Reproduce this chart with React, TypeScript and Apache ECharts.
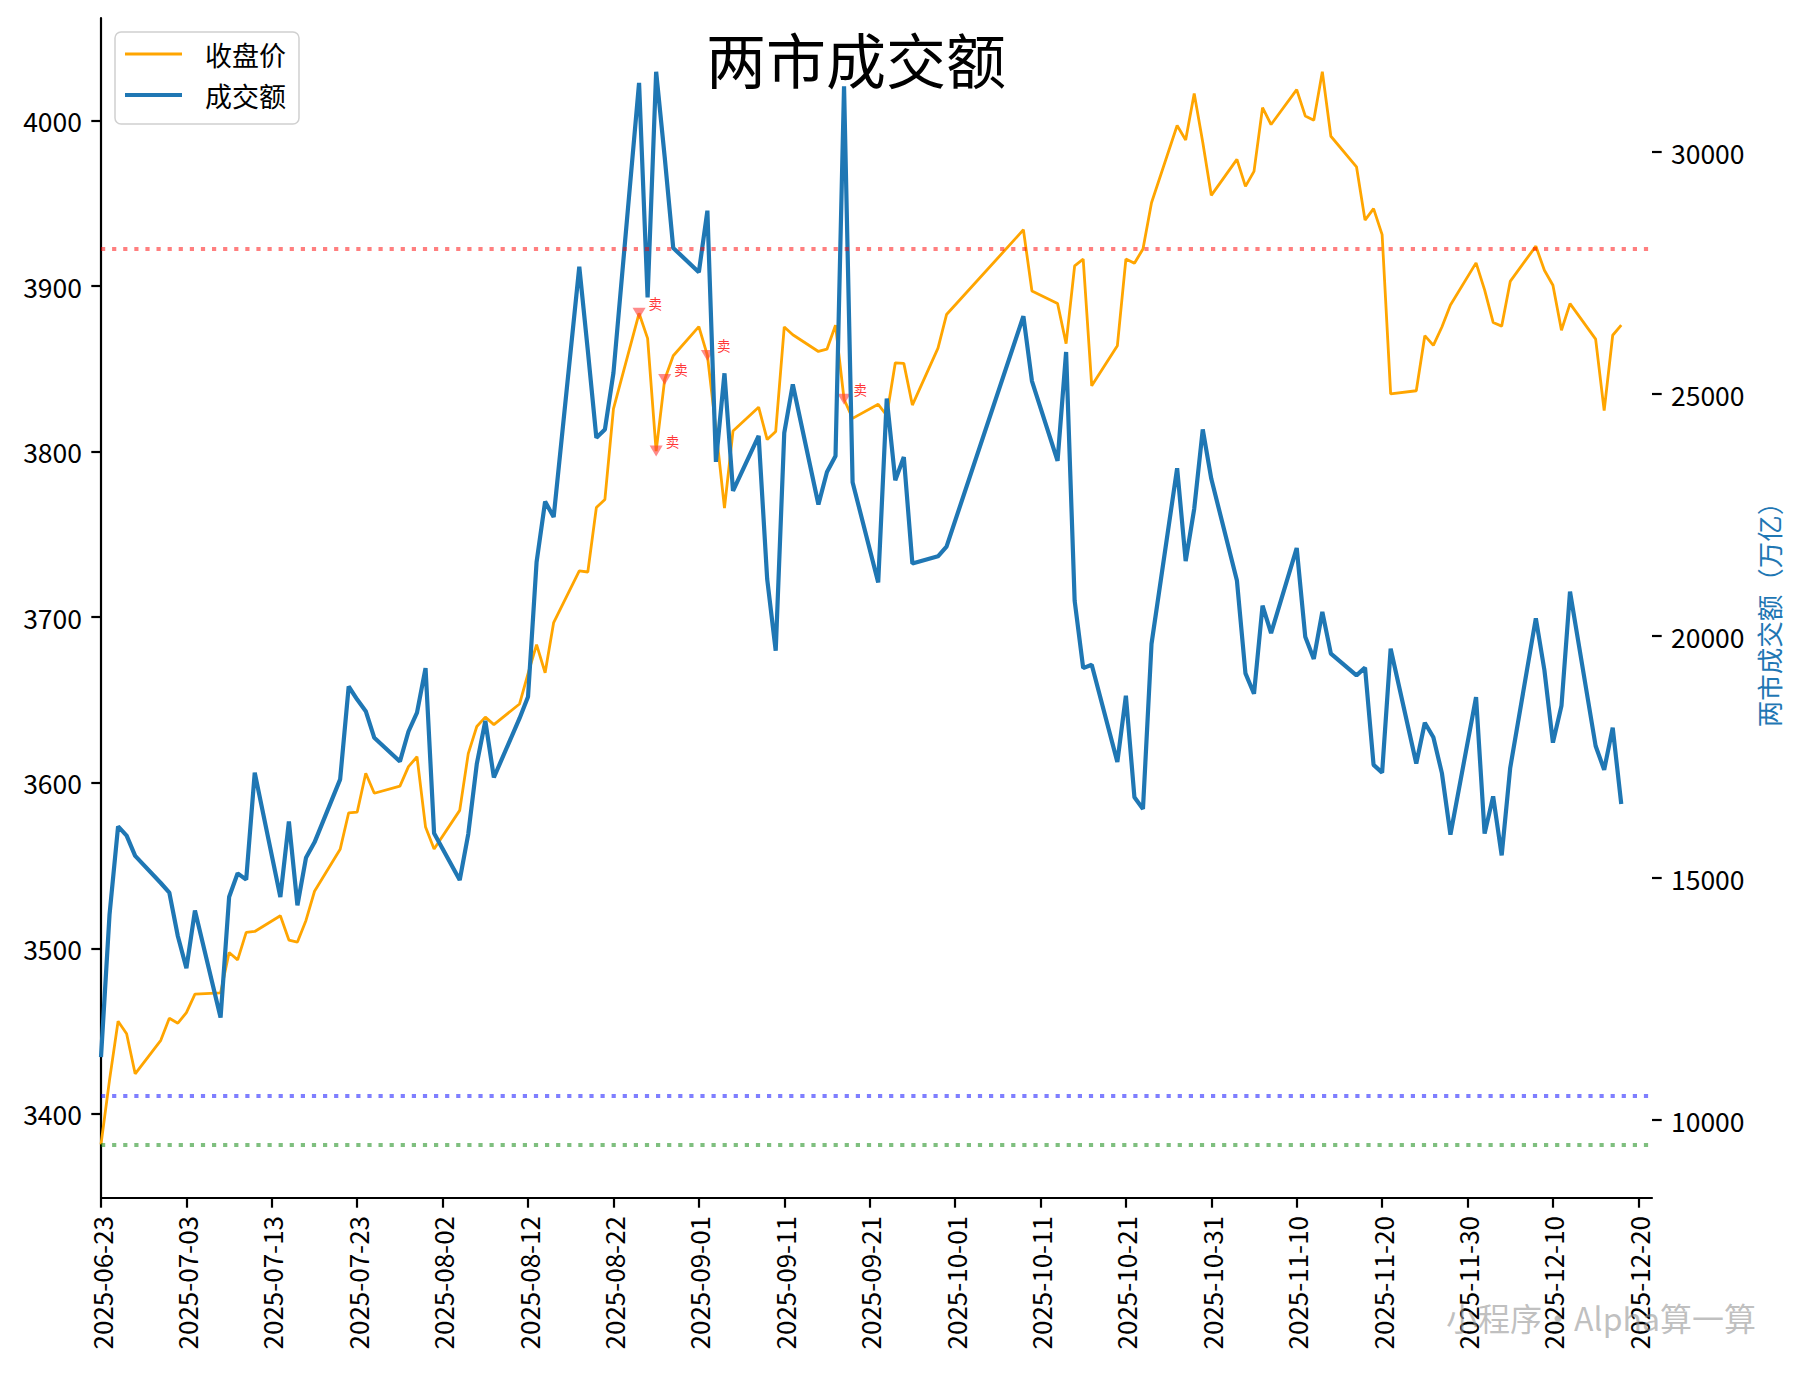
import React, { useEffect, useRef } from "react";
import * as echarts from "echarts";

const DATES = [
  "2025-06-23","2025-06-24","2025-06-25","2025-06-26","2025-06-27","2025-06-30",
  "2025-07-01","2025-07-02","2025-07-03","2025-07-04","2025-07-07","2025-07-08","2025-07-09","2025-07-10","2025-07-11","2025-07-14","2025-07-15","2025-07-16","2025-07-17","2025-07-18","2025-07-21","2025-07-22","2025-07-23","2025-07-24","2025-07-25","2025-07-28","2025-07-29","2025-07-30","2025-07-31",
  "2025-08-01","2025-08-04","2025-08-05","2025-08-06","2025-08-07","2025-08-08","2025-08-11","2025-08-12","2025-08-13","2025-08-14","2025-08-15","2025-08-18","2025-08-19","2025-08-20","2025-08-21","2025-08-22","2025-08-25","2025-08-26","2025-08-27","2025-08-28","2025-08-29",
  "2025-09-01","2025-09-02","2025-09-03","2025-09-04","2025-09-05","2025-09-08","2025-09-09","2025-09-10","2025-09-11","2025-09-12","2025-09-15","2025-09-16","2025-09-17","2025-09-18","2025-09-19","2025-09-22","2025-09-23","2025-09-24","2025-09-25","2025-09-26","2025-09-29","2025-09-30",
  "2025-10-09","2025-10-10","2025-10-13","2025-10-14","2025-10-15","2025-10-16","2025-10-17","2025-10-20","2025-10-21","2025-10-22","2025-10-23","2025-10-24","2025-10-27","2025-10-28","2025-10-29","2025-10-30","2025-10-31",
  "2025-11-03","2025-11-04","2025-11-05","2025-11-06","2025-11-07","2025-11-10","2025-11-11","2025-11-12","2025-11-13","2025-11-14","2025-11-17","2025-11-18","2025-11-19","2025-11-20","2025-11-21","2025-11-24","2025-11-25","2025-11-26","2025-11-27","2025-11-28",
  "2025-12-01","2025-12-02","2025-12-03","2025-12-04","2025-12-05","2025-12-08","2025-12-09","2025-12-10","2025-12-11","2025-12-12","2025-12-15","2025-12-16","2025-12-17","2025-12-18",
];

const CLOSE = [
  3381.58, 3420.57, 3455.97, 3448.45, 3424.23, 3444.43,
  3457.75, 3454.79, 3461.15, 3472.32, 3473.13, 3497.48, 3493.05, 3509.68, 3510.18, 3519.65, 3505.0, 3503.78, 3516.83, 3534.48, 3559.79, 3581.86, 3582.3, 3605.73, 3593.66, 3597.94, 3609.71, 3615.72, 3573.21,
  3559.95, 3583.31, 3617.6, 3633.99, 3639.67, 3635.13, 3647.55, 3665.92, 3683.46, 3666.44, 3696.77, 3728.03, 3727.29, 3766.21, 3771.1, 3825.76, 3883.56, 3868.38, 3800.35, 3843.6, 3857.93,
  3875.53, 3858.13, 3813.56, 3765.88, 3812.51, 3826.84, 3807.29, 3812.22, 3875.31, 3870.6, 3860.5, 3861.87, 3876.34, 3831.66, 3820.09, 3828.58, 3821.83, 3853.64, 3853.3, 3828.11, 3862.53, 3882.78,
  3933.97, 3897.03, 3889.5, 3865.23, 3912.21, 3916.23, 3839.76, 3863.89, 3916.33, 3913.76, 3922.41, 3950.31, 3996.94, 3988.22, 4016.33, 3986.9, 3954.79,
  3976.52, 3960.19, 3969.25, 4007.76, 3997.56, 4018.6, 4002.76, 4000.14, 4029.5, 3990.49, 3972.03, 3939.81, 3946.74, 3931.05, 3834.89, 3836.77, 3870.02, 3864.18, 3875.26, 3888.6,
  3914.01, 3897.71, 3878.0, 3875.79, 3902.81, 3924.08, 3909.52, 3900.5, 3873.32, 3889.35, 3867.92, 3824.81, 3870.28, 3876.37,
];

const TURNOVER = [
  11300, 14250, 16070, 15880, 15460, 14900,
  14700, 13800, 13140, 14330, 12120, 14610, 15100, 14970, 17180, 14610, 16170, 14440, 15420, 15740, 17040, 18960, 18690, 18450, 17900, 17410, 18030, 18420, 19340,
  15930, 14960, 15910, 17360, 18250, 17080, 18300, 18750, 21530, 22780, 22460, 27630, 25900, 24100, 24270, 25440, 31430, 27000, 31660, 29900, 28020,
  27520, 28790, 23600, 25430, 23000, 24140, 21180, 19700, 24200, 25200, 22720, 23390, 23720, 31360, 23180, 21110, 24910, 23220, 23700, 21500, 21650, 21850,
  26610, 25270, 23620, 25870, 20730, 19340, 19410, 17400, 18770, 16670, 16430, 19840, 23470, 21550, 22630, 24270, 23250,
  21150, 19230, 18810, 20630, 20060, 21820, 19990, 19530, 20500, 19640, 19190, 19350, 17340, 17180, 19740, 17370, 18210, 17910, 17170, 15900,
  18740, 15920, 16690, 15470, 17280, 20370, 19300, 17800, 18560, 20920, 17730, 17240, 18110, 16530,
];

const SELL_DATES = ["2025-08-25", "2025-08-27", "2025-08-28", "2025-09-02", "2025-09-18"];

const X_TICK_LABELS = [
  "2025-06-23","2025-07-03","2025-07-13","2025-07-23","2025-08-02","2025-08-12","2025-08-22",
  "2025-09-01","2025-09-11","2025-09-21","2025-10-01","2025-10-11","2025-10-21","2025-10-31",
  "2025-11-10","2025-11-20","2025-11-30","2025-12-10","2025-12-20",
];
const LEFT_TICKS = [3400, 3500, 3600, 3700, 3800, 3900, 4000];
const RIGHT_TICKS = [10000, 15000, 20000, 25000, 30000];

const HLINE_RED = 28000;
const HLINE_BLUE = 10500;
const HLINE_GREEN = 9500;

const X_START = "2025-06-23";
const X_END_DAYS = 181.6;
const LEFT_RANGE = [3349.2, 4061.9];
const RIGHT_RANGE = [8392, 32771];

const FONT = "'Noto Sans CJK SC', 'Noto Sans', sans-serif";

function dayOffset(s: string): number {
  const [y, m, d] = s.split("-").map(Number);
  const [y0, m0, d0] = X_START.split("-").map(Number);
  return Math.round((Date.UTC(y, m - 1, d) - Date.UTC(y0, m0 - 1, d0)) / 86400000);
}

export default function App() {
  const ref = useRef<HTMLDivElement>(null);

  useEffect(() => {
    if (!ref.current) return;
    const chart = echarts.init(ref.current, null, { renderer: "svg" });

    const xs = DATES.map(dayOffset);
    const closeData = xs.map((x, i) => [x, CLOSE[i]]);
    const turnoverData = xs.map((x, i) => [x, TURNOVER[i]]);
    const sellData = SELL_DATES.map((d) => {
      const i = DATES.indexOf(d);
      return [xs[i], CLOSE[i]];
    });
    const xTickVals = X_TICK_LABELS.map(dayOffset);
    const labelMap: Record<number, string> = {};
    X_TICK_LABELS.forEach((l, i) => (labelMap[xTickVals[i]] = l));

    const axisLineStyle = { color: "#000", width: 2.2 };
    const plain = (v: number) => String(Math.round(v));

    chart.setOption({
      animation: false,
      backgroundColor: "#fff",
      textStyle: { fontFamily: FONT },
      title: {
        text: "两市成交额",
        left: 851,
        textAlign: "center",
        top: 22,
        textStyle: { fontSize: 60, fontWeight: "normal", color: "#000", fontFamily: FONT },
      },
      legend: {
        orient: "vertical",
        left: 115,
        top: 32,
        itemWidth: 57,
        itemHeight: 28,
        itemGap: 13,
        padding: [8, 13, 15, 10],
        backgroundColor: "rgba(255,255,255,0.8)",
        borderColor: "#d0d0d0",
        borderWidth: 1.5,
        borderRadius: 6,
        data: [
          { name: "收盘价", icon: "path://M0,0H57V2.8H0Z" },
          { name: "成交额", icon: "path://M0,0H57V4.2H0Z" },
        ],
        textStyle: { fontSize: 27, lineHeight: 28, color: "#000", fontFamily: FONT, padding: [0, 0, 0, 18] },
      },
      grid: { left: 101, right: 154, top: 18, bottom: 178, containLabel: false },
      xAxis: {
        type: "value",
        min: 0,
        max: X_END_DAYS,
        splitLine: { show: false },
        axisLine: { show: true, onZero: false, lineStyle: axisLineStyle },
        axisTick: { show: true, length: 9.7, lineStyle: axisLineStyle, customValues: xTickVals },
        axisLabel: {
          show: true,
          rotate: 90,
          margin: 18,
          fontSize: 26,
          color: "#000",
          fontFamily: FONT,
          customValues: xTickVals,
          formatter: (v: number) => labelMap[Math.round(v)] ?? "",
        },
      },
      yAxis: [
        {
          type: "value",
          min: LEFT_RANGE[0],
          max: LEFT_RANGE[1],
          position: "left",
          splitLine: { show: false },
          axisLine: { show: true, lineStyle: axisLineStyle },
          axisTick: { show: true, length: 9.7, lineStyle: axisLineStyle, customValues: LEFT_TICKS },
          axisLabel: {
            show: true,
            margin: 19,
            fontSize: 26.5,
            color: "#000",
            fontFamily: FONT,
            customValues: LEFT_TICKS,
            formatter: plain,
          },
        },
        {
          type: "value",
          min: RIGHT_RANGE[0],
          max: RIGHT_RANGE[1],
          position: "right",
          name: "两市成交额（万亿）",
          nameLocation: "middle",
          nameRotate: 90,
          nameGap: 103,
          nameTextStyle: { color: "#1f77b4", fontSize: 26.5, fontFamily: FONT },
          splitLine: { show: false },
          axisLine: { show: false },
          axisTick: { show: true, length: 9.7, lineStyle: axisLineStyle, customValues: RIGHT_TICKS },
          axisLabel: {
            show: true,
            margin: 19,
            fontSize: 26.5,
            color: "#000",
            fontFamily: FONT,
            customValues: RIGHT_TICKS,
            formatter: plain,
          },
        },
      ],
      series: [
        {
          name: "收盘价",
          type: "line",
          yAxisIndex: 0,
          data: closeData,
          symbol: "none",
          color: "#FFA500",
          lineStyle: { color: "#FFA500", width: 2.8 },
          z: 2,
        },
        {
          name: "卖点",
          type: "scatter",
          yAxisIndex: 0,
          data: sellData,
          symbol: "triangle",
          symbolRotate: 180,
          symbolSize: [13, 11],
          itemStyle: { color: "rgba(255,60,60,0.75)" },
          label: {
            show: true,
            formatter: "卖",
            position: "right",
            distance: 3,
            offset: [0, -10],
            color: "red",
            fontSize: 13.5,
            fontFamily: FONT,
          },
          z: 3,
        },
        {
          name: "成交额",
          type: "line",
          yAxisIndex: 1,
          data: turnoverData,
          symbol: "none",
          color: "#1f77b4",
          lineStyle: { color: "#1f77b4", width: 4.2 },
          z: 4,
          markLine: {
            silent: true,
            symbol: ["none", "none"],
            label: { show: false },
            lineStyle: { type: [4.2, 6.9], width: 4.2, cap: "butt" },
            data: [
              { yAxis: HLINE_RED, lineStyle: { color: "rgba(255,0,0,0.5)", type: [4.2, 6.9], width: 4.2 } },
              { yAxis: HLINE_BLUE, lineStyle: { color: "rgba(0,0,255,0.5)", type: [4.2, 6.9], width: 4.2 } },
              { yAxis: HLINE_GREEN, lineStyle: { color: "rgba(0,128,0,0.5)", type: [4.2, 6.9], width: 4.2 } },
            ],
          },
        },
      ],
      graphic: [
        {
          type: "text",
          x: 1601,
          y: 1317,
          z: 100,
          style: {
            text: "小程序•Alpha算一算",
            fontSize: 32,
            fontFamily: FONT,
            fill: "rgba(150,150,150,0.6)",
            textAlign: "center",
            textVerticalAlign: "middle",
          },
        },
      ],
    });

    return () => chart.dispose();
  }, []);

  return (
    <div
      ref={ref}
      style={{ position: "fixed", left: 0, top: 0, width: 1806, height: 1376, background: "#fff" }}
    />
  );
}
